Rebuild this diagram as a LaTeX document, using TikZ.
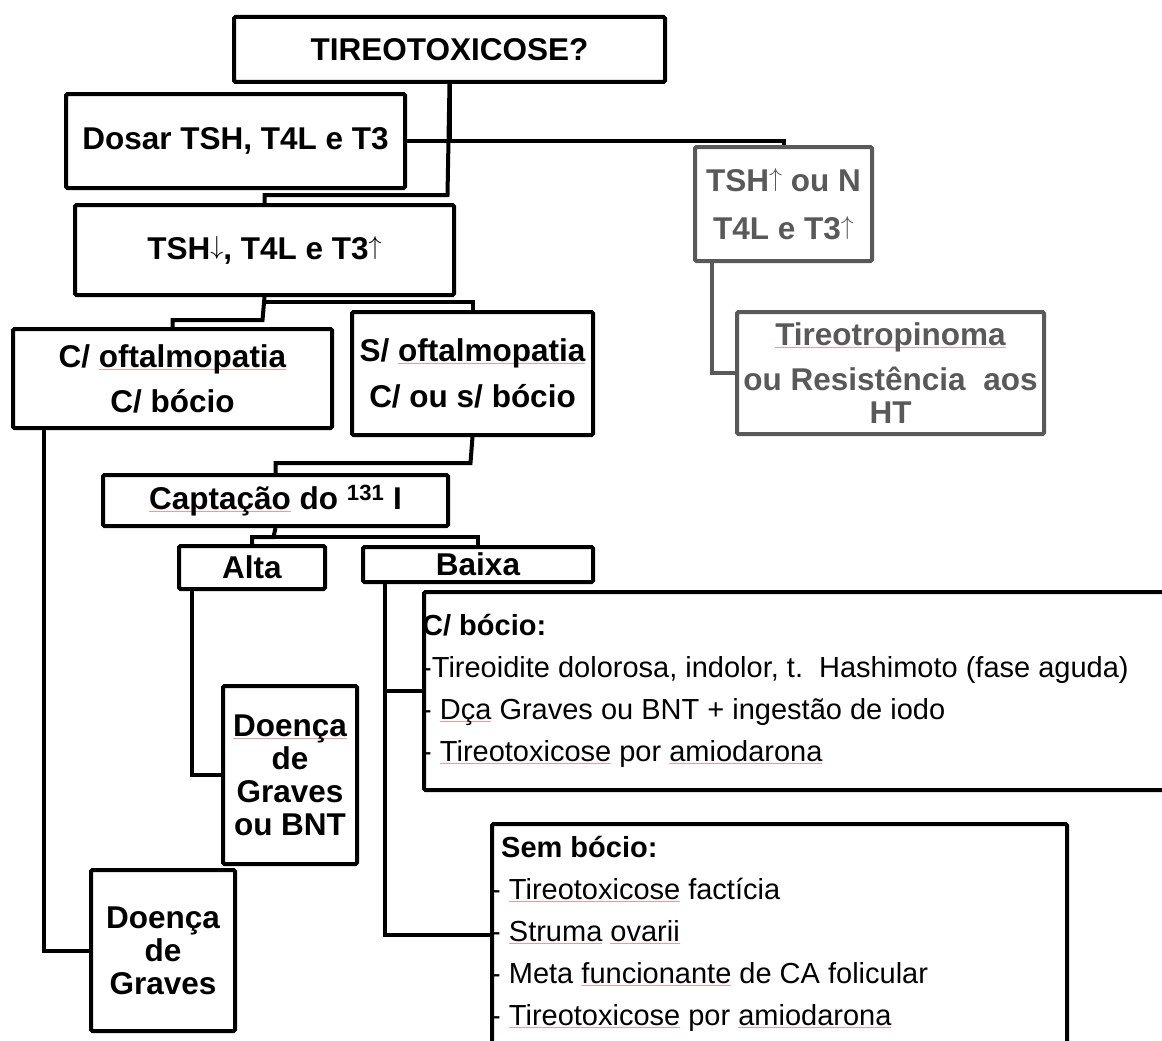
\documentclass[tikz,border=0pt]{standalone}
\usepackage{fontspec}
\setmainfont{Liberation Sans}

\definecolor{cinza}{HTML}{595959}
\definecolor{corretor}{HTML}{F29A9A}
\newlength{\grifolen}
\newcommand{\grifo}[1]{\settowidth{\grifolen}{#1}\rlap{\textcolor{corretor}{\rule[-2.5pt]{\grifolen}{1pt}}}#1}
\newcommand{\sobe}{\raisebox{5pt}{\scalebox{2.6}{\fontsize{10}{12}\selectfont$\uparrow$}}}
\newcommand{\desce}{\raisebox{5pt}{\scalebox{2.6}{\fontsize{10}{12}\selectfont$\downarrow$}}}

\tikzset{
	caixa/.style={draw, line width=4pt, rounded corners=1.5pt, anchor=north west, align=center, font=\bfseries\fontsize{31.5}{33}\selectfont},
	cinzenta/.style={caixa, draw=cinza, text=cinza},
	fio/.style={line width=4pt},
	lista/.style={anchor=north west, inner sep=0pt, align=left, font=\fontsize{29}{42}\selectfont}
}

\begin{document}
\begin{tikzpicture}[x=1pt, y=-1pt]

	\clip (0,0) rectangle (1162,1041);

	\node[caixa, minimum width=431pt, minimum height=65pt] (tireo) at (232,15) {TIREOTOXICOSE?};
	\node[caixa, minimum width=339pt, minimum height=94pt] (dosar) at (64,92) {Dosar TSH, T4L e T3};
	\node[caixa, minimum width=379pt, minimum height=90pt] (tsh) at (73,203) {TSH\desce, T4L e T3\sobe};

	\node[cinzenta, minimum width=177pt, minimum height=114pt] (hi) at (693,145) {TSH\sobe\ ou N\\[15pt]T4L e T3\sobe};
	\node[cinzenta, minimum width=307pt, minimum height=122pt] (tr) at (735,310) {\grifo{Tireotropinoma}\\[12pt]ou Resistência\ \ aos\\HT};

	\node[caixa, minimum width=319pt, minimum height=99pt] (com) at (11,327) {C/ \grifo{oftalmopatia}\\[12pt]C/ bócio};
	\node[caixa, minimum width=241pt, minimum height=123pt] (sem) at (350,310) {S/ \grifo{oftalmopatia}\\[13pt]C/ ou s/ bócio};
	\node[caixa, minimum width=345pt, minimum height=51pt] (capt) at (101,473) {\grifo{Captação} do \textsuperscript{131} I};
	\node[caixa, minimum width=146pt, minimum height=43pt] (alta) at (177,544) {Alta};
	\node[caixa, minimum width=230pt, minimum height=35pt] (baixa) at (361,545) {Baixa};
	\node[caixa, minimum width=134pt, minimum height=178pt] (bnt) at (221,684) {\grifo{Doença}\\de\\Graves\\ou BNT};
	\node[caixa, minimum width=144pt, minimum height=161pt] (graves) at (89,868) {Doença\\de\\Graves};

	\node[caixa, minimum width=800pt, minimum height=198pt] (cbox) at (422,590) {};
	\node[lista] (ctext) at (422,614) {\textbf{C/ bócio:}\\-Tireoidite dolorosa, indolor, t.\ \ Hashimoto (fase aguda)\\- \grifo{Dça} Graves ou BNT + ingestão de iodo\\- \grifo{Tireotoxicose} por \grifo{amiodarona}};
	\node[caixa, minimum width=575pt, minimum height=222pt] (sbox) at (490,822) {};
	\node[lista] (stext) at (491,836) {\hspace{10pt}\textbf{Sem bócio:}\\- \grifo{Tireotoxicose} factícia\\- \grifo{Struma} \grifo{ovarii}\\- Meta \grifo{funcionante} de CA folicular\\- \grifo{Tireotoxicose} por \grifo{amiodarona}};

	\coordinate (j1) at (447.5,195);
	\coordinate (j2) at (262.5,320);
	\coordinate (j3) at (262.5,302);
	\coordinate (j4) at (470.5,463);
	\coordinate (j5) at (273.5,537);

	\draw[fio] (tireo.south) |- (dosar.east);
	\draw[fio] (tireo.south |- dosar.east) -| (hi.north);
	\draw[fio] (tireo.south) -- (j1) -| (tsh.north);
	\draw[fio] (tsh.south) -- (j2) -| (com.north);
	\draw[fio] (j3) -| (sem.north);
	\draw[fio] (sem.south) -- (j4) -| (capt.north);
	\draw[fio] (capt.south) -- (j5) -| (alta.north);
	\draw[fio] (j5) -| (baixa.north);
	\draw[fio] ([xshift=15pt]alta.south west) |- (bnt.west);
	\draw[fio] ([xshift=33pt]com.south west) |- (graves.west);
	\draw[fio] ([xshift=24pt]baixa.south west) |- (cbox.west);
	\draw[fio] ([xshift=24pt]baixa.south west) |- (sbox.west);
	\draw[fio, cinza] ([xshift=19pt]hi.south west) |- (tr.west);

\end{tikzpicture}
\end{document}
